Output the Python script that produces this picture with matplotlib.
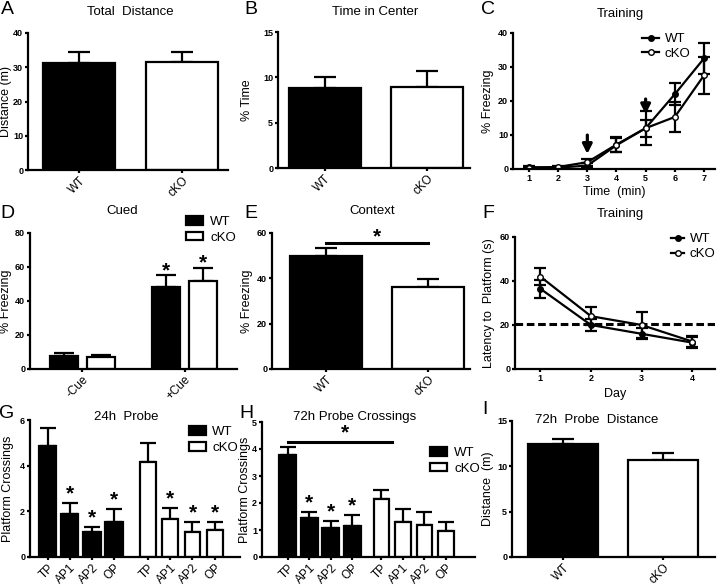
import numpy as np
import matplotlib
matplotlib.use("Agg")
import matplotlib.pyplot as plt
from matplotlib.patches import Patch
from matplotlib.lines import Line2D

plt.rcParams['font.family'] = ['Liberation Sans', 'DejaVu Sans']

# ---- data ----
groups = ['WT', 'cKO']

total_dist = [31.1, 31.4]
total_dist_err = [3.3, 3.0]

time_center = [8.85, 8.97]
time_center_err = [1.15, 1.75]

train_min = [1, 2, 3, 4, 5, 6, 7]
train_wt = [0.5, 0.4, 1.0, 7.0, 12.0, 22.0, 32.5]
train_wt_err = [0.3, 0.2, 0.8, 2.0, 2.5, 3.3, 4.7]
train_ko = [0.4, 0.6, 2.0, 7.2, 12.0, 15.3, 27.5]
train_ko_err = [0.3, 0.2, 1.0, 2.3, 5.0, 4.5, 5.4]

cue_labels = ['-Cue', '+Cue']
cued_wt = [7.8, 48.0]
cued_wt_err = [1.4, 7.3]
cued_ko = [6.9, 52.0]
cued_ko_err = [1.3, 7.2]

context = [49.9, 36.1]
context_err = [3.7, 3.4]

days = [1, 2, 3, 4]
mwm_wt = [36.5, 20.0, 16.0, 12.0]
mwm_wt_err = [4.0, 2.7, 2.5, 2.5]
mwm_ko = [42.0, 24.0, 20.0, 12.5]
mwm_ko_err = [4.0, 4.0, 6.0, 2.5]
mwm_chance = 20.5

quads = ['TP', 'AP1', 'AP2', 'OP']
p24_wt = [4.87, 1.89, 1.11, 1.53]
p24_wt_err = [0.77, 0.46, 0.22, 0.57]
p24_ko = [4.15, 1.67, 1.10, 1.17]
p24_ko_err = [0.86, 0.46, 0.42, 0.35]

p72_wt = [3.78, 1.46, 1.07, 1.16]
p72_wt_err = [0.30, 0.21, 0.26, 0.38]
p72_ko = [2.16, 1.29, 1.17, 0.96]
p72_ko_err = [0.31, 0.50, 0.50, 0.34]

probe_dist = [12.5, 10.7]
probe_dist_err = [0.5, 0.8]

W, H = 720, 586
LW = 1.6


def rect(l, r, t, b):
    return [l / W, 1 - b / H, (r - l) / W, (b - t) / H]


def style(ax, ylim, yticks):
    for s in ['top', 'right']:
        ax.spines[s].set_visible(False)
    for s in ['left', 'bottom']:
        ax.spines[s].set_linewidth(LW)
    ax.set_ylim(*ylim)
    ax.set_yticks(yticks)
    ax.tick_params(width=LW, length=2.5, direction='out', labelsize=6.5, pad=1)
    for lab in ax.get_yticklabels():
        lab.set_fontweight('bold')


def ylab(ax, text, xpx):
    # place the y label centre at a given pixel column
    l = ax.get_position().x0 * W
    w = ax.get_position().width * W
    ax.set_ylabel(text, fontsize=9, va='center')
    ax.yaxis.set_label_coords((xpx - l) / w, 0.5)


def bars(ax, x, vals, errs, color, width=0.7, cap=8):
    ax.errorbar(x, vals, yerr=[np.zeros(len(vals)), errs], fmt='none',
                ecolor='black', elinewidth=LW, capsize=cap, capthick=LW, zorder=1)
    ax.bar(x, vals, width=width, color=color, edgecolor='black', linewidth=LW, zorder=2)


def cat_labels(ax, x, labels, size=8.5):
    ax.set_xticks(x)
    ax.set_xticklabels(labels, rotation=45, ha='right', rotation_mode='anchor', fontsize=size)


def ftext(x, y, s, **kw):
    fig.text(x / W, 1 - y / H, s, ha='center', va='center', **kw)


def box_legend(ax, x, y):
    ax.legend(handles=[Patch(fc='black', ec='black', lw=LW), Patch(fc='white', ec='black', lw=LW)],
              labels=['WT', 'cKO'], frameon=False, fontsize=9.5, handlelength=1.3,
              handleheight=0.6, loc='upper left', bbox_to_anchor=(x, y), borderaxespad=0,
              borderpad=0, labelspacing=0.3, handletextpad=0.5)


def line_legend(ax, x, y, hl):
    ax.legend(handles=[Line2D([], [], color='black', marker='o', ms=4, lw=LW, mfc='black'),
                       Line2D([], [], color='black', marker='o', ms=4, lw=LW, mfc='white')],
              labels=['WT', 'cKO'], frameon=False, fontsize=9.5, handlelength=hl,
              loc='upper left', bbox_to_anchor=(x, y), borderaxespad=0, borderpad=0,
              labelspacing=0.2, handletextpad=0.4)


fig = plt.figure(figsize=(7.2, 5.86), dpi=100)

# A
ax = fig.add_axes(rect(28, 228, 33, 170))
bars(ax, [0, 1], total_dist, total_dist_err, ['black', 'white'])
style(ax, (0, 40), [0, 10, 20, 30, 40])
ax.set_xlim(-0.5, 1.45)
cat_labels(ax, [0, 1], groups)
ylab(ax, 'Distance (m)', 6)

# B
ax = fig.add_axes(rect(278, 470, 32, 168))
bars(ax, [0, 1], time_center, time_center_err, ['black', 'white'])
style(ax, (0, 15), [0, 5, 10, 15])
ax.set_xlim(-0.46, 1.42)
cat_labels(ax, [0, 1], groups)
ylab(ax, '% Time', 247)

# C
ax = fig.add_axes(rect(513, 715, 33, 169))
ax.errorbar(train_min, train_wt, yerr=train_wt_err, color='black', lw=LW, marker='o',
            ms=4, mfc='black', capsize=4, capthick=LW, elinewidth=LW)
ax.errorbar(train_min, train_ko, yerr=train_ko_err, color='black', lw=LW, marker='o',
            ms=4, mfc='white', capsize=4, capthick=LW, elinewidth=LW)
style(ax, (0, 40), [0, 10, 20, 30, 40])
ax.set_xlim(0.45, 7.38)
ax.set_xticks(train_min)
for lab in ax.get_xticklabels():
    lab.set_fontweight('bold')
ax.set_xlabel('Time  (min)', fontsize=9, labelpad=2)
ylab(ax, '% Freezing', 488)
for t, y0, y1 in [(3, 10.8, 3.6), (5, 21.4, 15.3)]:
    ax.annotate('', xy=(t, y1), xytext=(t, y0),
                arrowprops=dict(arrowstyle='-|>', color='black', lw=2.3, mutation_scale=14))
line_legend(ax, 0.64, 1.0, 1.3)

# D
ax = fig.add_axes(rect(30, 237, 233, 369))
xd = np.array([0, 2.76])
bars(ax, xd, cued_wt, cued_wt_err, 'black', width=0.75, cap=7)
bars(ax, xd + 1, cued_ko, cued_ko_err, 'white', width=0.75, cap=7)
style(ax, (0, 80), [0, 20, 40, 60, 80])
ax.set_xlim(-0.92, 4.68)
cat_labels(ax, xd + 0.5, cue_labels)
ylab(ax, '% Freezing', 6)
ax.text(xd[1], 58, '*', ha='center', va='center', fontsize=15, fontweight='bold')
ax.text(xd[1] + 1, 62.5, '*', ha='center', va='center', fontsize=15, fontweight='bold')
box_legend(ax, 0.755, 1.125)

# E
ax = fig.add_axes(rect(272, 470, 233, 369))
bars(ax, [0, 1], context, context_err, ['black', 'white'])
style(ax, (0, 60), [0, 20, 40, 60])
ax.set_xlim(-0.53, 1.41)
cat_labels(ax, [0, 1], groups)
ylab(ax, '% Freezing', 247)
ax.plot([0, 1], [55.6, 55.6], color='black', lw=2.2, clip_on=False)
ax.text(0.5, 58.5, '*', ha='center', va='center', fontsize=15, fontweight='bold')

# F
ax = fig.add_axes(rect(515, 715, 237, 369))
ax.axhline(mwm_chance, color='black', lw=2.2, ls=(0, (2.5, 1.2)), zorder=1)
ax.errorbar(days, mwm_wt, yerr=mwm_wt_err, color='black', lw=LW, marker='o',
            ms=4, mfc='black', capsize=4, capthick=LW, elinewidth=LW)
ax.errorbar(days, mwm_ko, yerr=mwm_ko_err, color='black', lw=LW, marker='o',
            ms=4, mfc='white', capsize=4, capthick=LW, elinewidth=LW)
style(ax, (0, 60), [0, 20, 40, 60])
ax.set_xlim(0.5, 4.45)
ax.set_xticks(days)
for lab in ax.get_xticklabels():
    lab.set_fontweight('bold')
ax.set_xlabel('Day', fontsize=9, labelpad=3.5)
ylab(ax, 'Latency to  Platform (s)', 489)
line_legend(ax, 0.78, 1.03, 1.0)

# G
ax = fig.add_axes(rect(30, 240, 420, 557))
xg_wt = np.arange(4)
xg_ko = np.arange(4) + 4.55
bars(ax, xg_wt, p24_wt, p24_wt_err, 'black', width=0.78, cap=5.5)
bars(ax, xg_ko, p24_ko, p24_ko_err, 'white', width=0.72, cap=5.5)
style(ax, (0, 6), [0, 2, 4, 6])
ax.set_xlim(-0.8, 8.7)
cat_labels(ax, np.concatenate([xg_wt, xg_ko]), quads * 2)
ylab(ax, 'Platform Crossings', 8)
for xs, vs, es in [(xg_wt, p24_wt, p24_wt_err), (xg_ko, p24_ko, p24_ko_err)]:
    for i in range(1, 4):
        ax.text(xs[i], vs[i] + es[i] + 0.4, '*', ha='center', va='center',
                fontsize=15, fontweight='bold')
box_legend(ax, 0.755, 0.955)

# H
ax = fig.add_axes(rect(262, 475, 422, 557))
xh_wt = np.arange(4)
xh_ko = np.arange(4) + 4.35
bars(ax, xh_wt, p72_wt, p72_wt_err, 'black', width=0.8, cap=5.5)
bars(ax, xh_ko, p72_ko, p72_ko_err, 'white', width=0.72, cap=5.5)
style(ax, (0, 5), [0, 1, 2, 3, 4, 5])
ax.set_xlim(-1.2, 8.7)
cat_labels(ax, np.concatenate([xh_wt, xh_ko]), quads * 2)
ylab(ax, 'Platform Crossings', 245)
for i in range(1, 4):
    ax.text(xh_wt[i], p72_wt[i] + p72_wt_err[i] + 0.35, '*', ha='center', va='center',
            fontsize=15, fontweight='bold')
ax.plot([xh_wt[0], xh_ko[0] + 0.5], [4.25, 4.25], color='black', lw=2.2)
ax.text((xh_wt[0] + xh_ko[0]) / 2 + 0.5, 4.6, '*', ha='center', va='center',
        fontsize=15, fontweight='bold')
box_legend(ax, 0.79, 0.815)

# I
ax = fig.add_axes(rect(512, 715, 421, 557))
bars(ax, [0, 1], probe_dist, probe_dist_err, ['black', 'white'])
style(ax, (0, 15), [0, 5, 10, 15])
ax.set_xlim(-0.51, 1.52)
cat_labels(ax, [0, 1], groups)
ylab(ax, 'Distance  (m)', 488)

# titles and panel letters
titles = [(130, 12, 'Total  Distance'), (375, 12, 'Time in Center'), (620, 14, 'Training'),
          (122, 211, 'Cued'), (372, 211, 'Context'), (620, 214, 'Training'),
          (126, 417, '24h  Probe'), (355, 417, '72h Probe Crossings'),
          (597, 420, '72h  Probe  Distance')]
for x, y, s in titles:
    ftext(x, y, s, fontsize=9.5)
letters = [(7, 10, 'A'), (251, 10, 'B'), (488, 10, 'C'),
           (7, 213, 'D'), (251, 213, 'E'), (488, 213, 'F'),
           (7, 413, 'G'), (246, 413, 'H'), (485, 410, 'I')]
for x, y, s in letters:
    ftext(x, y, s, fontsize=14)

fig.savefig('out.png', dpi=100)
